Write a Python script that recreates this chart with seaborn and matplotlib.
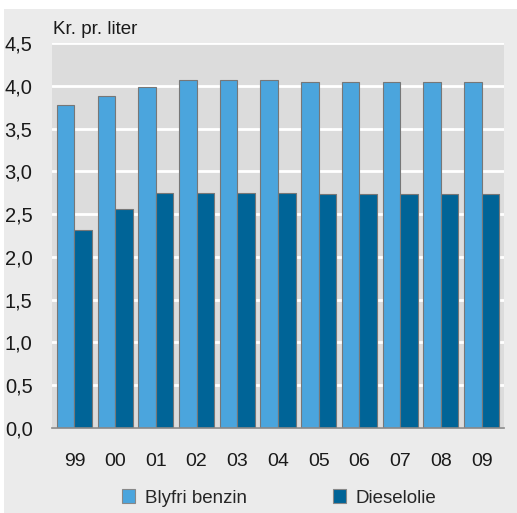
import numpy as np
import pandas as pd
import matplotlib
matplotlib.use("Agg")
import matplotlib.pyplot as plt
import seaborn as sns
from matplotlib.patches import Rectangle, Patch
from matplotlib.ticker import FuncFormatter

# Data
years = ["99", "00", "01", "02", "03", "04", "05", "06", "07", "08", "09"]
benzin = [3.78, 3.88, 3.98, 4.07, 4.07, 4.07, 4.05, 4.05, 4.05, 4.05, 4.05]
diesel = [2.31, 2.56, 2.75, 2.75, 2.75, 2.75, 2.74, 2.74, 2.74, 2.74, 2.74]
series_names = ["Blyfri benzin", "Dieselolie"]
colors = ["#4ba5dd", "#006497"]

df = pd.DataFrame({
    "year": years * 2,
    "value": benzin + diesel,
    "series": [series_names[0]] * len(years) + [series_names[1]] * len(years),
})

sns.set_style("white")
plt.rcParams["font.family"] = ["Liberation Sans Narrow", "Liberation Sans", "DejaVu Sans"]

fig = plt.figure(figsize=(5.17, 5.13), dpi=100, facecolor="white")
# light gray panel behind everything
fig.patches.append(Rectangle((4 / 517, 0), 1, 1 - 9 / 513, transform=fig.transFigure,
                             facecolor="#ebebeb", edgecolor="none", zorder=-10))

ax = fig.add_axes([52 / 517, 1 - 428 / 513, 452 / 517, (428 - 43) / 513])
ax.set_zorder(2)
ax.set_facecolor("#dcdcdc")

sns.barplot(data=df, x="year", y="value", hue="series", palette=colors,
            width=0.86, gap=0, edgecolor="#777777", linewidth=0.8,
            saturation=1, ax=ax, legend=False, zorder=3)

ax.set_ylim(0, 4.5)
ax.set_yticks(np.arange(0, 4.51, 0.5))
ax.yaxis.set_major_formatter(FuncFormatter(lambda v, p: f"{v:.1f}".replace(".", ",")))
ax.grid(axis="y", color="white", linewidth=2, zorder=1)
ax.set_axisbelow(True)
ax.set_xlim(-0.55, len(years) - 0.45)

for s in ["top", "right", "left"]:
    ax.spines[s].set_visible(False)
ax.spines["bottom"].set_color("#888888")
ax.spines["bottom"].set_linewidth(1.2)
ax.spines["bottom"].set_zorder(5)

ax.tick_params(axis="y", length=0, pad=14, labelsize=14.5, colors="#1a1a1a")
ax.tick_params(axis="x", length=0, pad=18, labelsize=14, colors="#1a1a1a")
ax.set_xlabel("")
ax.set_ylabel("")

fig.text(53 / 517, 1 - 29 / 513, "Kr. pr. liter", fontsize=13.5, color="#1a1a1a",
         va="center", ha="left")

handles = [Patch(facecolor=c, edgecolor="#888888", linewidth=0.8) for c in colors]
fig.legend(handles, series_names, loc="center", bbox_to_anchor=(0.54, 1 - 498 / 513),
           ncol=2, frameon=False, fontsize=13.5, handlelength=0.7, handleheight=0.7,
           handletextpad=0.5, columnspacing=4.6)

fig.savefig("out.png", dpi=100, facecolor=fig.get_facecolor())
